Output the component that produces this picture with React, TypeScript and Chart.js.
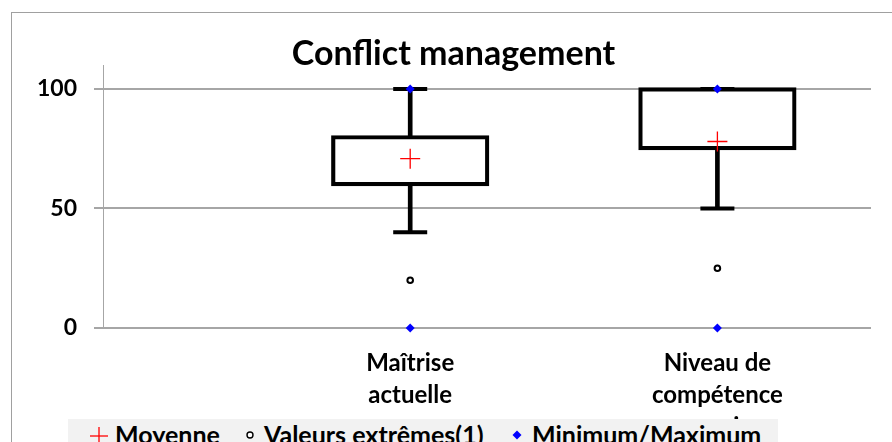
import { useEffect, useRef } from 'react';
import { Chart, registerables } from 'chart.js';

Chart.register(...registerables);

// ---- data ----
const TITLE = 'Conflict management';
const categories: string[][] = [
  ['Maîtrise', 'actuelle'],
  ['Niveau de', 'compétence', 'requis'],
];
const q1 = [60, 75];
const q3 = [80, 100];
const whiskerLow = [40, 50];
const whiskerHigh = [100, 100];
const means = [70.8, 78];
const outliers = [20, 25];
const minimums = [0, 0];
const maximums = [100, 100];
const yTicks = [0, 50, 100];
const yMax = 110;
const legendLabels = ['Moyenne', 'Valeurs extrêmes(1)', 'Minimum/Maximum'];

const FONT = 'Lato';

export default function App() {
  const ref = useRef<HTMLCanvasElement>(null);

  useEffect(() => {
    Chart.defaults.font.family = FONT;
    Chart.defaults.color = '#000';
    const xs = categories.map((_, i) => i + 1);
    const pts = (vals: number[]) => vals.map((y, i) => ({ x: xs[i], y }));

    const chart = new Chart(ref.current!, {
      type: 'bar',
      data: {
        datasets: [
          {
            type: 'scatter',
            label: legendLabels[0],
            data: pts(means),
            pointStyle: 'cross',
            pointRadius: 10,
            pointHoverRadius: 10,
            pointBorderColor: 'rgb(255,0,0)',
            pointBorderWidth: 1.3,
            clip: false,
            order: 0,
          } as any,
          {
            type: 'scatter',
            label: legendLabels[2],
            data: [...pts(minimums), ...pts(maximums)],
            pointStyle: 'rectRot',
            pointRadius: 4.5,
            pointHoverRadius: 4.5,
            pointBackgroundColor: 'rgb(0,0,255)',
            pointBorderColor: 'rgb(0,0,255)',
            pointBorderWidth: 0,
            clip: false,
            order: 1,
          } as any,
          {
            type: 'scatter',
            label: legendLabels[1],
            data: pts(outliers),
            pointStyle: 'circle',
            pointRadius: 2.8,
            pointHoverRadius: 2.8,
            pointBackgroundColor: '#fff',
            pointBorderColor: '#000',
            pointBorderWidth: 2,
            clip: false,
            order: 2,
          } as any,
          {
            type: 'scatter',
            label: 'caps',
            data: [...pts(whiskerLow), ...pts(whiskerHigh)],
            pointStyle: 'line',
            pointRadius: 17,
            pointHoverRadius: 17,
            pointBorderColor: '#000',
            pointBorderWidth: 4,
            clip: false,
            order: 3,
          } as any,
          {
            type: 'bar',
            label: 'boxes',
            data: xs.map((x, i) => ({ x, y: [q1[i], q3[i]] })),
            backgroundColor: 'rgba(255,255,255,0)',
            borderColor: '#000',
            borderWidth: 1,
            inflateAmount: 1.6,
            borderSkipped: false,
            barThickness: 155,
            grouped: false,
            clip: false,
            order: 4,
          } as any,
          {
            type: 'bar',
            label: 'whiskers',
            data: [
              ...xs.map((x, i) => ({ x, y: [whiskerLow[i], q1[i]] })),
              ...xs.map((x, i) => ({ x, y: [q3[i], whiskerHigh[i]] })),
            ],
            backgroundColor: '#000',
            borderWidth: 0,
            barThickness: 4,
            grouped: false,
            order: 5,
          } as any,
        ],
      },
      options: {
        responsive: false,
        animation: false,
        events: [],
        layout: { padding: { left: 34, right: 19, top: 0, bottom: 0 } },
        plugins: {
          legend: { display: false },
          tooltip: { enabled: false },
          title: {
            display: true,
            text: TITLE,
            color: '#000',
            font: { family: FONT, size: 34, weight: 'bold', lineHeight: 0.5 },
            padding: { top: 46, bottom: 2 },
          },
        },
        scales: {
          x: {
            type: 'linear',
            min: 0,
            max: categories.length + 0.5,
            offset: false,
            grid: { display: false, drawTicks: false, offset: false },
            border: { display: false },
            afterBuildTicks: (scale: any) => {
              scale.ticks = xs.map((v) => ({ value: v }));
            },
            afterFit: (scale: any) => {
              scale.height = 114;
            },
            ticks: {
              autoSkip: false,
              maxRotation: 0,
              minRotation: 0,
              padding: 19,
              color: '#000',
              font: { family: FONT, size: 24, weight: 'bold', lineHeight: 1.3333 },
              callback: (v: any) => categories[Math.round(v) - 1] ?? '',
            },
          },
          y: {
            type: 'linear',
            min: 0,
            max: yMax,
            grid: {
              color: '#a6a6a6',
              lineWidth: 2,
              tickLength: 9,
              drawTicks: true,
            },
            border: { display: true, color: '#a6a6a6', width: 1 },
            afterBuildTicks: (scale: any) => {
              scale.ticks = yTicks.map((v) => ({ value: v }));
            },
            afterFit: (scale: any) => {
              scale.width = 69;
            },
            ticks: {
              padding: 17,
              color: '#000',
              font: { family: FONT, size: 23, weight: 'bold' },
            },
          },
        },
      } as any,
    });
    return () => chart.destroy();
  }, []);

  const txt: any = {
    position: 'absolute',
    top: 0,
    lineHeight: '30px',
    whiteSpace: 'nowrap',
  };

  return (
    <div
      style={{
        position: 'fixed',
        left: 0,
        top: 0,
        width: 892,
        height: 442,
        overflow: 'hidden',
        background: '#fff',
      }}
    >
      <div
        style={{
          position: 'absolute',
          left: 11,
          top: 12,
          width: 1000,
          height: 1000,
          borderTop: '1px solid #a0a0a0',
          borderLeft: '1px solid #a0a0a0',
        }}
      />
      <canvas
        ref={ref}
        width={892}
        height={442}
        style={{ position: 'absolute', left: 0, top: 0, width: 892, height: 442 }}
      />
      <div
        style={{
          position: 'absolute',
          left: 68,
          top: 419,
          width: 710,
          height: 40,
          background: '#f2f2f2',
          fontFamily: FONT,
          fontWeight: 'bold',
          fontSize: 25,
          color: '#000',
        }}
      >
        <svg style={{ position: 'absolute', left: 22, top: 8 }} width={18} height={18}>
          <line x1={0} y1={9} x2={18} y2={9} stroke="rgb(255,0,0)" strokeWidth={1.3} />
          <line x1={9} y1={0} x2={9} y2={18} stroke="rgb(255,0,0)" strokeWidth={1.3} />
        </svg>
        <span style={{ ...txt, left: 47 }}>{legendLabels[0]}</span>
        <svg style={{ position: 'absolute', left: 177, top: 11 }} width={10} height={10}>
          <circle cx={5} cy={5} r={3} fill="#fff" stroke="#000" strokeWidth={1.4} />
        </svg>
        <span style={{ ...txt, left: 196 }}>{legendLabels[1]}</span>
        <svg style={{ position: 'absolute', left: 444, top: 11 }} width={10} height={10}>
          <polygon points="5,0.5 9.5,5 5,9.5 0.5,5" fill="rgb(0,0,255)" />
        </svg>
        <span style={{ ...txt, left: 464 }}>{legendLabels[2]}</span>
      </div>
    </div>
  );
}
